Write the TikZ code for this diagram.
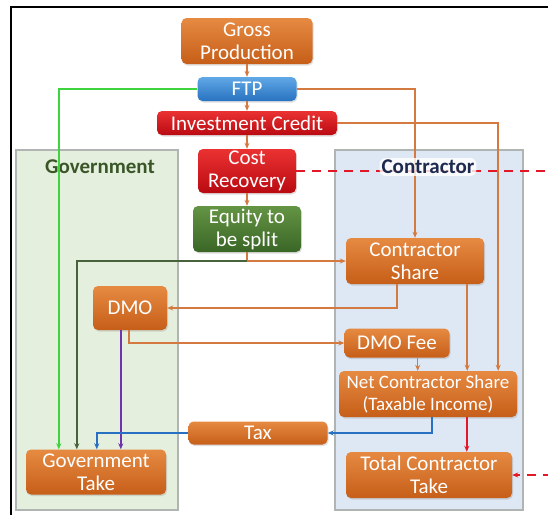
\documentclass[tikz,border=0pt]{standalone}
\usepackage{fontspec}
\setmainfont{Carlito}
\usetikzlibrary{arrows.meta,positioning,shadows}
\definecolor{orgT}{RGB}{230,138,66}
\definecolor{orgB}{RGB}{198,94,24}
\definecolor{bluT}{RGB}{96,168,230}
\definecolor{bluB}{RGB}{40,114,192}
\definecolor{redT}{RGB}{234,50,50}
\definecolor{redB}{RGB}{186,10,18}
\definecolor{grnT}{RGB}{100,148,68}
\definecolor{grnB}{RGB}{58,102,38}
\definecolor{lnOrg}{RGB}{212,122,64}
\definecolor{lnGrn}{RGB}{62,212,62}
\definecolor{lnDkg}{RGB}{72,98,60}
\definecolor{lnBlu}{RGB}{40,112,196}
\definecolor{lnPur}{RGB}{112,52,176}
\definecolor{lnRed}{RGB}{226,24,40}
\definecolor{govBg}{RGB}{228,239,221}
\definecolor{conBg}{RGB}{221,232,244}
\definecolor{panLn}{RGB}{176,180,178}
\definecolor{govTx}{RGB}{58,86,40}
\definecolor{conTx}{RGB}{30,42,78}
\tikzset{
  blk/.style={rounded corners=5pt, inner sep=0pt, align=center, text=white, font=\fontsize{21}{23}\selectfont, drop shadow={shadow xshift=1pt, shadow yshift=-1.5pt, opacity=0.25}},
  oblk/.style={blk, top color=orgT, bottom color=orgB},
  bblk/.style={blk, top color=bluT, bottom color=bluB},
  rblk/.style={blk, top color=redT, bottom color=redB},
  gblk/.style={blk, top color=grnT, bottom color=grnB},
  panel/.style={draw=panLn, line width=1.5pt},
  lbl/.style={font=\fontsize{21}{23}\selectfont\bfseries},
  arr/.style={-{Stealth[length=6pt,width=5pt]}, line width=1.5pt, draw=lnOrg},
  garr/.style={arr, draw=lnGrn},
  dgarr/.style={arr, draw=lnDkg},
  barr/.style={arr, draw=lnBlu},
  parr/.style={arr, draw=lnPur},
  rarr/.style={arr, draw=lnRed},
  rdash/.style={arr, draw=lnRed, dash pattern=on 9pt off 7pt},
}
\begin{document}
\begin{tikzpicture}[x=1pt, y=-1pt]
\clip (0,0) rectangle (548,514);
\draw[line width=2pt] (10.5,520) -- (10.5,6.5) -- (560,6.5);

% panels
\draw[panel, fill=govBg] (16,150) rectangle (178,510);
\draw[panel, fill=conBg] (335,150) rectangle (523,510);
\node[lbl, text=govTx] (govlbl) at (100,167) {Government};

\node[oblk, minimum width=131pt, minimum height=46pt] (gross) at (247,41) {Gross\\Production};
\node[bblk, minimum width=99pt, minimum height=24pt] (ftp) at (247,89) {FTP};
\node[rblk, minimum width=180pt, minimum height=24pt] (invcr) at (247,123) {Investment Credit};
\node[rblk, minimum width=98pt, minimum height=44pt] (costrec) at (247,171) {Cost\\Recovery};
\node[gblk, minimum width=108pt, minimum height=46pt] (equity) at (247,229) {Equity to\\be split};
\node[oblk, minimum width=138pt, minimum height=46pt] (cshare) at (415,261) {Contractor\\Share};
\node[oblk, minimum width=74pt, minimum height=44pt] (dmo) at (130,308) {DMO};
\node[oblk, minimum width=105pt, minimum height=29pt] (dmofee) at (397,343) {DMO Fee};
\node[oblk, minimum width=178pt, minimum height=46pt, font=\fontsize{19}{22}\selectfont] (netcs) at (428,394) {Net Contractor Share\\(Taxable Income)};
\node[oblk, minimum width=139pt, minimum height=23pt] (tax) at (258,433) {Tax};
\node[oblk, minimum width=140pt, minimum height=45pt] (govtake) at (96,472) {Government\\Take};
\node[oblk, minimum width=166pt, minimum height=46pt] (totct) at (429,475) {Total Contractor\\Take};

\draw[arr] (gross) -- (ftp);
\draw[arr] (ftp) -- (invcr);
\draw[arr] (invcr) -- (costrec);
\draw[arr] (costrec) -- (equity);
\draw[garr] (ftp.west) -| ([xshift=33pt]govtake.north west);
\draw[arr] (ftp.east) -| (cshare.north);
\draw[arr] (invcr.east) -| ([xshift=-19pt]netcs.north east);
\draw[arr] (equity.south) |- (cshare.west);
\draw[dgarr] (equity.south |- cshare.west) -| ([xshift=51pt]govtake.north west);
\draw[arr] ([xshift=51pt]cshare.south west) |- (dmo.east);
\draw[arr] ([xshift=-17pt]cshare.south east) -- ([xshift=-17pt]cshare.south east |- netcs.north);
\draw[arr] ([xshift=36pt]dmo.south west) |- (dmofee.west);
\draw[parr] ([xshift=28pt]dmo.south west) -- ([xshift=28pt]dmo.south west |- govtake.north);
\draw[arr] ([xshift=-32pt]dmofee.south east) -- ([xshift=-32pt]dmofee.south east |- netcs.north);
\draw[barr] ([xshift=93pt]netcs.south west) |- (tax.east);
\draw[barr] (tax.west) -| ([xshift=71pt]govtake.north west);
\draw[rarr] ([xshift=128pt]netcs.south west) -- ([xshift=128pt]netcs.south west |- totct.north);
\draw[rdash] (costrec.east) -- ++(280,0) |- (totct.east);

\node[lbl, text=conTx, fill=white, fill opacity=0.8, text opacity=1, rounded corners=6pt, inner sep=2pt] (conlbl) at (428,167) {Contractor};

\end{tikzpicture}
\end{document}
